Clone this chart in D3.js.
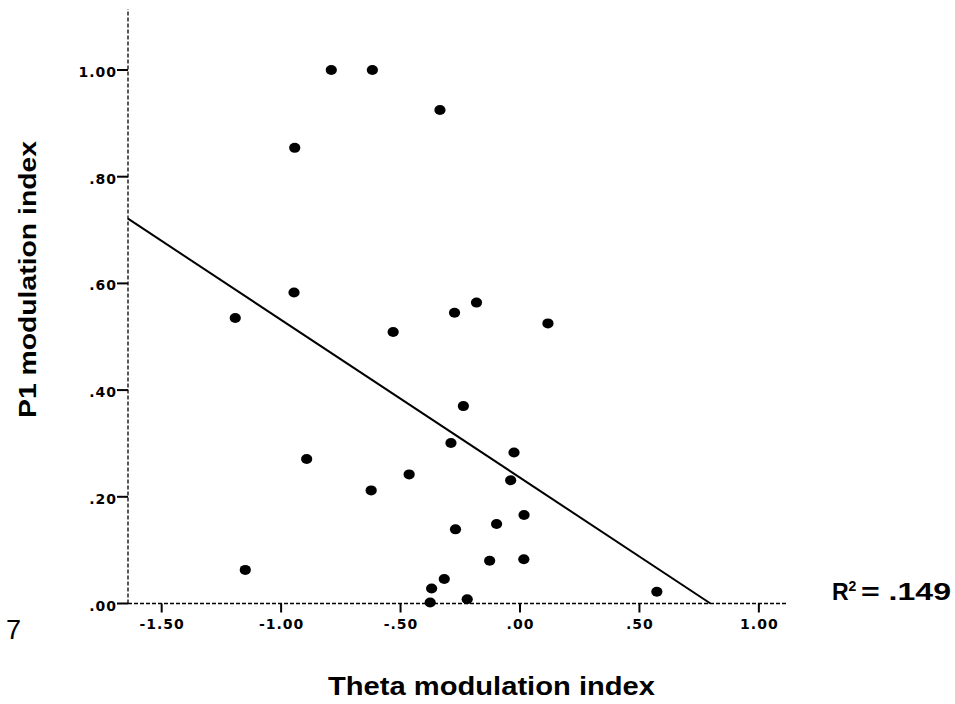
<!DOCTYPE html>
<html>
<head>
<meta charset="utf-8">
<script src="https://cdn.jsdelivr.net/npm/d3@7"></script>
<style>
  body { margin: 0; background: #fff; }
  svg { display: block; }
</style>
</head>
<body>
<svg id="chart" width="955" height="704"></svg>
<script>
// theta modulation index (x) and P1 modulation index (y)
var thetaIdx = [-0.790, -0.618, -0.335, -0.943, -0.946, -1.192, -0.531, -0.274, -0.182, 0.117,
                -0.237, -0.289, -0.025, -0.893, -0.464, -0.623, -0.039, 0.017, -0.098, -0.270,
                -1.150, -0.127, 0.016, -0.317, -0.370, -0.376, -0.221, 0.573];
var p1Idx =    [1.000, 1.000, 0.925, 0.854, 0.583, 0.535, 0.509, 0.545, 0.564, 0.525,
                0.370, 0.301, 0.283, 0.271, 0.242, 0.212, 0.231, 0.166, 0.149, 0.139,
                0.063, 0.080, 0.083, 0.046, 0.028, 0.002, 0.008, 0.022];
var xTicks = [-1.5, -1.0, -0.5, 0, 0.5, 1.0];
var yTicks = [0, 0.2, 0.4, 0.6, 0.8, 1.0];
var rSquared = ".149";

var svg = d3.select("#chart");

var x = d3.scaleLinear().domain([-1.641, 1.122]).range([128, 788]),
    y = d3.scaleLinear().domain([0, 1.1143]).range([603.5, 9]);

// SPSS style labels: no leading zero, plain hyphen for minus
var fmt = function(d) {
  return d3.format(".2f")(d).replace("\u2212", "-").replace(/^(-?)0\./, "$1.");
};

// dashed axis lines
svg.append("line")
    .attr("x1", x.range()[0]).attr("x2", x.range()[1])
    .attr("y1", y(0)).attr("y2", y(0))
    .attr("stroke", "#000").attr("stroke-width", 1.3)
    .attr("stroke-dasharray", "4,2");
svg.append("line")
    .attr("x1", x.range()[0]).attr("x2", x.range()[0])
    .attr("y1", y.range()[0]).attr("y2", y.range()[1])
    .attr("stroke", "#000").attr("stroke-width", 1.3)
    .attr("stroke-dasharray", "4,2");

// tick marks
svg.append("g").selectAll("line")
    .data(xTicks)
    .enter()
    .append("line")
    .attr("x1", function(d) { return x(d); }).attr("x2", function(d) { return x(d); })
    .attr("y1", y(0)).attr("y2", y(0) + 9)
    .attr("stroke", "#000").attr("stroke-width", 2);
svg.append("g").selectAll("line")
    .data(yTicks)
    .enter()
    .append("line")
    .attr("x1", x.range()[0] - 11).attr("x2", x.range()[0])
    .attr("y1", function(d) { return y(d); }).attr("y2", function(d) { return y(d); })
    .attr("stroke", "#000").attr("stroke-width", 2);

// tick labels
var tickFont = function(sel) {
  sel.attr("fill", "#000")
     .style("font-family", "DejaVu Sans")
     .style("font-weight", "bold")
     .style("font-size", "14px")
     .style("letter-spacing", "1px");
};
svg.append("g").selectAll("text")
    .data(xTicks)
    .enter()
    .append("text")
    .attr("x", function(d) { return x(d) + 0.5; })
    .attr("y", y(0) + 25)
    .attr("text-anchor", "middle")
    .call(tickFont)
    .text(fmt);
svg.append("g").selectAll("text")
    .data(yTicks)
    .enter()
    .append("text")
    .attr("x", x.range()[0] - 11)
    .attr("y", function(d) { return y(d) + 7; })
    .attr("text-anchor", "end")
    .call(tickFont)
    .text(fmt);

// least squares fit line, drawn from the left axis down to y = 0
var mx = d3.mean(thetaIdx), my = d3.mean(p1Idx);
var sxy = d3.sum(thetaIdx, function(v, i) { return (v - mx) * (p1Idx[i] - my); }),
    sxx = d3.sum(thetaIdx, function(v) { return (v - mx) * (v - mx); });
var slope = sxy / sxx, icpt = my - slope * mx;
var x0 = x.domain()[0], x1 = -icpt / slope;
svg.append("line")
    .attr("x1", x(x0)).attr("y1", y(icpt + slope * x0))
    .attr("x2", x(x1)).attr("y2", y(0))
    .attr("stroke", "#000").attr("stroke-width", 2);

svg.append("g").selectAll("ellipse")
    .data(thetaIdx)
    .enter()
    .append("ellipse")
    .attr("cx", function(d) { return x(d); })
    .attr("cy", function(d, i) { return y(p1Idx[i]); })
    .attr("rx", 5.6)
    .attr("ry", 5)
    .attr("fill", "#000");

// titles
svg.append("text")
    .attr("x", 491.5).attr("y", 695)
    .attr("text-anchor", "middle")
    .attr("textLength", 327).attr("lengthAdjust", "spacingAndGlyphs")
    .style("font-family", "Liberation Sans").style("font-weight", "bold").style("font-size", "25px")
    .text("Theta modulation index");

svg.append("text")
    .attr("transform", "translate(36,279.5) rotate(-90)")
    .attr("text-anchor", "middle")
    .attr("textLength", 277).attr("lengthAdjust", "spacingAndGlyphs")
    .style("font-family", "Liberation Sans").style("font-weight", "bold").style("font-size", "24px")
    .text("P1 modulation index");

// R squared annotation
var rs = svg.append("g")
    .style("font-family", "Liberation Sans").style("font-weight", "bold");
rs.append("text").attr("x", 832).attr("y", 600).style("font-size", "23px").text("R");
rs.append("text").attr("x", 848.5).attr("y", 591).style("font-size", "14px").text("2");
rs.append("text").attr("x", 861).attr("y", 600).style("font-size", "23px")
    .attr("textLength", 90).attr("lengthAdjust", "spacingAndGlyphs")
    .text("= " + rSquared);

svg.append("text")
    .attr("x", 6).attr("y", 639)
    .style("font-family", "Liberation Sans").style("font-size", "27px")
    .text("7");
</script>
</body>
</html>
